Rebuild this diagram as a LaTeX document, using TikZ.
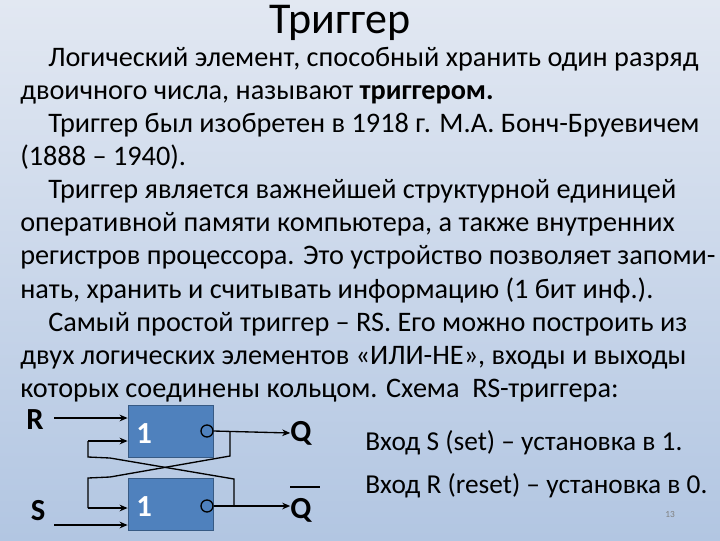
\documentclass[tikz,border=0pt]{standalone}
\usepackage{fontspec}
\setmainfont{Carlito}
\usetikzlibrary{arrows.meta}
\definecolor{bgA}{RGB}{226,232,242}
\definecolor{bgB}{RGB}{178,198,226}
\definecolor{boxblue}{RGB}{79,129,189}
\begin{document}
\begin{tikzpicture}[x=0.75pt,y=-0.75pt,
  txt/.style={anchor=base west,inner sep=0pt,font=\fontsize{21.2}{23}\selectfont},
  gate/.style={draw=boxblue!70!black,fill=boxblue,minimum width=63.75pt,minimum height=39pt,inner sep=0pt,line width=0.6pt},
  wire/.style={line width=1pt},
  arr/.style={wire,-{Stealth[length=6pt,width=5pt]}},
  lbl/.style={inner sep=0pt,font=\fontsize{23}{25}\bfseries\selectfont}]
\shade[left color=bgA,right color=bgB,shading angle=0] (0,0) rectangle (720,540);
\path[use as bounding box] (0,0) rectangle (720,540);
\node[inner sep=0pt,anchor=base,font=\fontsize{33}{35}\selectfont] (title) at (340,33) {Триггер};
\node[txt] (l1) at (48,66) {Логический элемент, способный хранить один разряд};
\node[txt] (l2) at (20,99) {двоичного числа, называют \textbf{триггером.}};
\node[txt] (l3) at (48,132) {Триггер был изобретен в 1918 г. М.А. Бонч-Бруевичем};
\node[txt] (l4) at (20,165) {(1888 – 1940).};
\node[txt] (l5) at (48,198) {Триггер является важнейшей структурной единицей};
\node[txt] (l6) at (20,231) {оперативной памяти компьютера, а также внутренних};
\node[txt] (l7) at (20,264) {регистров процессора. Это устройство позволяет запоми-};
\node[txt] (l8) at (20,298) {нать, хранить и считывать информацию (1 бит инф.).};
\node[txt] (l9) at (48,331) {Самый простой триггер – RS. Его можно построить из};
\node[txt] (l10) at (20,364) {двух логических элементов «ИЛИ-НЕ», входы и выходы};
\node[txt] (l11) at (20,397) {которых соединены кольцом. Схема\ \ RS-триггера:};
\node[txt,font=\fontsize{20.5}{22}\selectfont] (s1) at (365,450) {Вход S (set) – установка в 1.};
\node[txt,font=\fontsize{20.5}{22}\selectfont] (s2) at (365,493) {Вход R (reset) – установка в 0.};
\node[inner sep=0pt,text=gray,font=\fontsize{7}{8}\selectfont] (pg) at (670,514) {13};
% gates
\node[gate] (g1) at (170.5,431) {};
\node[gate] (g2) at (170.5,504) {};
\node[lbl,text=white,anchor=west] (one1) at (136,434) {1};
\node[lbl,text=white,anchor=west] (one2) at (136,507) {1};
\node[draw,wire,circle,minimum size=9pt,inner sep=0pt,fill=boxblue] (c1) at (207,431) {};
\node[draw,wire,circle,minimum size=9pt,inner sep=0pt,fill=boxblue] (c2) at (207,506) {};
\node[lbl] (R) at (35,420) {R};
\node[lbl] (S) at (38,511) {S};
\node[lbl] (Q) at (301,433) {Q};
\node[lbl] (Qb) at (301,510) {Q};
\draw[line width=1.2pt] (290,487) -- (320,487);
\coordinate (r0) at (54,418);
\coordinate (s0) at (54,525);
\draw[arr] (r0) -- (g1.west |- r0);
\draw[arr] (s0) -- (g2.west |- s0);
\draw[arr] (c1.east) -- (Q.west);
\draw[arr] (c2.east) -- (Qb.west |- c2);
% cross feedback
\coordinate (a1) at (88,441);
\coordinate (a2) at (88,457);
\coordinate (a3) at (110,458);
\coordinate (a4) at (234,479);
\coordinate (a5) at (234,506);
\draw[wire] (a5) -- (a4) -- (a3) -- (a2) -- (a1);
\draw[arr] (a1) -- (g1.west |- a1);
\coordinate (b1) at (230,431);
\coordinate (b2) at (230,456);
\coordinate (b3) at (110,477);
\coordinate (b4) at (88,478);
\coordinate (b5) at (88,508);
\draw[wire] (b1) -- (b2) -- (b3) -- (b4) -- (b5);
\draw[arr] (b5) -- (g2.west |- b5);
\end{tikzpicture}
\end{document}
